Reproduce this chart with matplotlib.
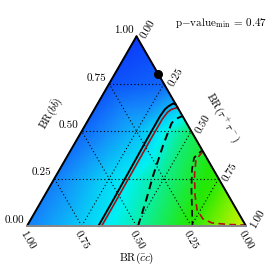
import numpy as np
import matplotlib
matplotlib.use("Agg")
import matplotlib.pyplot as plt
import matplotlib.tri as mtri
from matplotlib.colors import LinearSegmentedColormap

plt.rcParams['font.family'] = 'serif'
plt.rcParams['font.serif'] = ['cmr10', 'DejaVu Serif']
plt.rcParams['mathtext.fontset'] = 'cm'
plt.rcParams['axes.unicode_minus'] = False
plt.rcParams['axes.formatter.use_mathtext'] = True

# ---------------- data ----------------
tick_values = [0.0, 0.25, 0.5, 0.75, 1.0]
tick_labels = ["0.00", "0.25", "0.50", "0.75", "1.00"]
grid_values = [0.25, 0.5, 0.75]

# background colour level at ternary grid nodes (BR(bb), BR(tautau))
grid_bb = [1.0, 0.75, 0.75, 0.5, 0.5, 0.5, 0.25, 0.25, 0.25, 0.25, 0.0, 0.0, 0.0, 0.0, 0.0]
grid_tt = [0.0, 0.0, 0.25, 0.0, 0.25, 0.5, 0.0, 0.25, 0.5, 0.75, 0.0, 0.25, 0.5, 0.75, 1.0]
grid_level = [0.02, 0.07, 0.12, 0.12, 0.29, 0.52, 0.17, 0.35, 0.49, 0.63, 0.18, 0.33, 0.46, 0.61, 1.0]

# contours (BR(tautau), BR(bb))
solid_black_tt = [0.326, 0.325, 0.322, 0.319, 0.318, 0.322, 0.330, 0.344, 0.360]
solid_black_bb = [0.000, 0.138, 0.296, 0.455, 0.578, 0.615, 0.631, 0.646, 0.640]
solid_red_tt = [0.341, 0.340, 0.338, 0.336, 0.336, 0.342, 0.352, 0.375]
solid_red_bb = [0.000, 0.138, 0.296, 0.455, 0.565, 0.600, 0.615, 0.625]
dashed_black_tt = [0.507, 0.475, 0.442, 0.408, 0.389, 0.398, 0.420]
dashed_black_bb = [0.000, 0.140, 0.270, 0.429, 0.543, 0.565, 0.580]
dashed_black2_tt = [0.600, 0.583, 0.605, 0.656, 0.711, 0.756]
dashed_black2_bb = [0.400, 0.360, 0.296, 0.190, 0.085, 0.000]
dashed_red_tt = [0.606, 0.597, 0.630, 0.685, 0.734, 0.785, 0.837, 0.914, 0.995]
dashed_red_bb = [0.392, 0.349, 0.270, 0.164, 0.085, 0.037, 0.016, 0.008, 0.005]

best_tt = [0.20]
best_bb = [0.80]
pvalue_min = 0.47

# colour map
cmap_colors = [(10, 50, 250), (20, 140, 250), (0, 240, 245), (35, 232, 5), (130, 240, 0), (215, 242, 0)]
cmap_nodes = [0.0, 0.2, 0.4, 0.6, 0.8, 1.0]

# ---------------- helpers ----------------
S3 = np.sqrt(3) / 2
PX = 219.0  # pixels per unit side


def cart(tt, bb):
    tt = np.asarray(tt, float)
    bb = np.asarray(bb, float)
    return tt + bb / 2, bb * S3


def off(x, y, dx_px, dy_px):
    return x + dx_px / PX, y - dy_px / PX


def px(xp, yp):
    return (xp - 27) / PX, (226 - yp) / PX


fig = plt.figure(figsize=(2.74, 2.74), dpi=100)
ax = fig.add_axes([0, 0, 1, 1])
ax.set_xlim(-27 / PX, 247 / PX)
ax.set_ylim((226 - 274) / PX, 226 / PX)
ax.axis('off')

cmap = LinearSegmentedColormap.from_list(
    'bg', list(zip(cmap_nodes, [tuple(c / 255 for c in col) for col in cmap_colors])))

gx, gy = cart(grid_tt, grid_bb)
tri = mtri.Triangulation(gx, gy)
refiner = mtri.UniformTriRefiner(tri)
tri_f, z_f = refiner.refine_field(np.array(grid_level), subdiv=4,
                                  triinterpolator=mtri.LinearTriInterpolator(tri, np.array(grid_level)))
ax.tripcolor(tri_f, z_f, shading='gouraud', cmap=cmap, vmin=0, vmax=1, zorder=0, rasterized=True)

# grid lines
for v in grid_values:
    for (t0, b0, t1, b1) in [(0, v, 1 - v, v), (v, 0, v, 1 - v), (1 - v, 0, 0, 1 - v)]:
        x, y = cart([t0, t1], [b0, b1])
        ax.plot(x, y, color='black', lw=0.8, ls=(0, (1, 2.2)), zorder=2)

# contours
ax.plot(*cart(solid_black_tt, solid_black_bb), color='black', lw=1.4, zorder=3)
ax.plot(*cart(solid_red_tt, solid_red_bb), color='#9a1212', lw=1.2, zorder=3)
ax.plot(*cart(dashed_black_tt, dashed_black_bb), color='black', lw=1.4, ls=(0, (4, 2.6)), zorder=3)
ax.plot(*cart(dashed_black2_tt, dashed_black2_bb), color='black', lw=1.2, ls=(1.5, (4, 2.6)), zorder=3)
ax.plot(*cart(dashed_red_tt, dashed_red_bb), color='#b01010', lw=1.2, ls=(0, (4, 2.6)), zorder=3)

# triangle edges
ax.plot(*cart([0, 0], [0, 1]), color='black', lw=1.4, zorder=4, solid_capstyle='round')
ax.plot(*cart([0, 1], [1, 0]), color='black', lw=1.4, zorder=4, solid_capstyle='round')
ax.plot(*cart([0, 1], [0, 0]), color='#888888', lw=1.4, zorder=4)

# best-fit point
ax.plot(*cart(best_tt, best_bb), 'o', color='black', ms=5.5, zorder=5, clip_on=False)

fs = 8
# left axis ticks (BR(bb))
for v, lab in zip(tick_values, tick_labels):
    x, y = cart(0, v)
    ax.text(*off(x, y, -3, -6), lab, ha='right', va='center', fontsize=fs)
# bottom axis ticks (BR(cc))
for v, lab in zip(tick_values, tick_labels):
    x, y = cart(1 - v, 0)
    ax.text(*off(x, y, 0, 14.5), lab, ha='center', va='center', rotation=-60, fontsize=fs)
# right axis ticks (BR(tautau))
for v, lab in zip(tick_values, tick_labels):
    x, y = cart(v, 1 - v)
    ax.text(*off(x, y, 12, -7), lab, ha='center', va='center', rotation=60, fontsize=fs)

ax.text(*px(52, 114), r'BR($b\bar{b}$)', ha='center', va='center', rotation=60, fontsize=fs)
ax.text(*px(222, 118), r'BR($\tau^+\tau^-$)', ha='center', va='center', rotation=-60, fontsize=fs)
ax.text(*px(137, 258), r'BR($\bar{c}c$)', ha='center', va='center', fontsize=fs)
ax.text(*px(267, 23), r'p$-$value$_{\rm min}$ = %.2f' % pvalue_min, ha='right', va='center', fontsize=fs)

fig.savefig('out.png', dpi=100)
